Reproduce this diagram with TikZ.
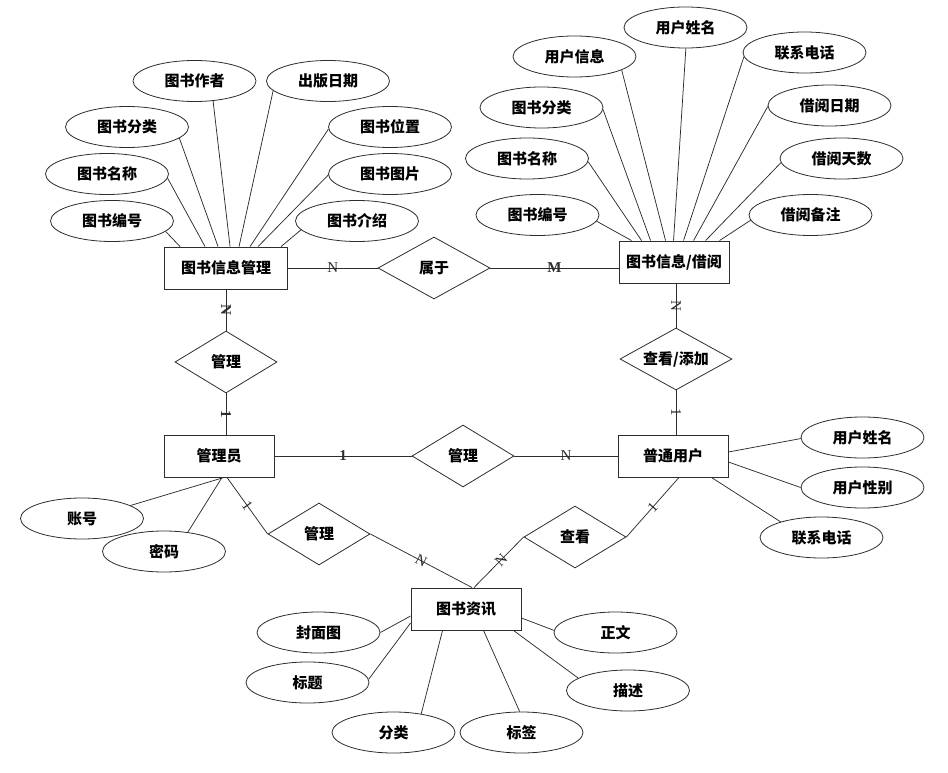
\documentclass[tikz,border=0pt]{standalone}
\usepackage{fontspec}
\setmainfont{Liberation Serif}
\newfontfamily\cjk{Noto Sans CJK SC}
\usetikzlibrary{shapes.geometric,positioning}
\definecolor{erLine}{RGB}{45,45,45}
\newcommand{\erfont}{\cjk\bfseries\fontsize{15}{17}\selectfont}

\tikzset{
  entbox/.style={draw=erLine, line width=0.9pt, rectangle, minimum width=110pt,
    minimum height=42pt, inner sep=0pt, font=\erfont},
  attr/.style={draw=erLine, line width=0.8pt, ellipse, minimum width=123pt,
    minimum height=41pt, inner sep=0pt, font=\erfont},
  rel/.style={draw=erLine, line width=0.8pt, diamond, aspect=1.8, minimum width=102pt,
    minimum height=62pt, inner sep=0pt, font=\erfont},
  link/.style={erLine, line width=0.75pt},
  card/.style={sloped, inner sep=0pt, font=\fontsize{15}{15}\selectfont}
}

\begin{document}
\begin{tikzpicture}[x=1pt, y=-1pt]
    \useasboundingbox (0,0) rectangle (948,773);
    % --- entities ---
    \node[entbox, minimum width=123pt] (tsgl) at (226,268) {图书信息管理};
    \node[entbox] (tsjy) at (674,262) {图书信息/借阅};
    \node[entbox] (gly) at (219,456) {管理员};
    \node[entbox] (ptyh) at (673,456) {普通用户};
    \node[entbox] (tszx) at (466,609) {图书资讯};
    % --- relations ---
    \node[rel, minimum width=112pt] (sy) at (434,268) {属于};
    \node[rel] (gl1) at (226,362) {管理};
    \node[rel, minimum width=112pt] (ckth) at (676,359) {查看/添加};
    \node[rel] (gl2) at (463,456) {管理};
    \node[rel] (gl3) at (319,534) {管理};
    \node[rel] (ck) at (575,537) {查看};
    % --- attributes of 图书信息管理 ---
    \node[attr] (tsbh) at (112,221) {图书编号};
    \node[attr] (tsmc) at (107,174) {图书名称};
    \node[attr] (tsfl) at (127,127) {图书分类};
    \node[attr] (tszz) at (194.5,81) {图书作者};
    \node[attr] (cbrq) at (328,81) {出版日期};
    \node[attr] (tswz) at (390,127) {图书位置};
    \node[attr] (tstp) at (390,174) {图书图片};
    \node[attr] (tsjs) at (357,221) {图书介绍};
    \draw[link] (tsbh.-11) -- ([xshift=16pt]tsgl.north west);
    \draw[link] (tsmc.-4) -- ([xshift=41pt]tsgl.north west);
    \draw[link] (tsfl.-12) -- ([xshift=54pt]tsgl.north west);
    \draw[link] (tszz.-47) -- ([xshift=66pt]tsgl.north west);
    \draw[link] (cbrq.190) -- ([xshift=75pt]tsgl.north west);
    \draw[link] (tswz.182) -- ([xshift=86pt]tsgl.north west);
    \draw[link] (tstp.181) -- ([xshift=94pt]tsgl.north west);
    \draw[link] (tsjs.189) -- ([xshift=117pt]tsgl.north west);
    % --- attributes of 图书信息/借阅 ---
    \node[attr] (jbh) at (537.5,215) {图书编号};
    \node[attr] (jmc) at (527,158.5) {图书名称};
    \node[attr] (jfl) at (541.5,107.5) {图书分类};
    \node[attr] (yhxx) at (574.5,56.5) {用户信息};
    \node[attr] (yhxm) at (685.5,27.5) {用户姓名};
    \node[attr] (lxdh) at (804.5,52.5) {联系电话};
    \node[attr] (jyrq) at (829.5,105.5) {借阅日期};
    \node[attr] (jyts) at (841.5,158.5) {借阅天数};
    \node[attr] (jybz) at (810.5,215) {借阅备注};
    \draw[link] (jbh.-6) -- ([xshift=13pt]tsjy.north west);
    \draw[link] (jmc.-3) -- ([xshift=23pt]tsjy.north west);
    \draw[link] (jfl.-2) -- ([xshift=32pt]tsjy.north west);
    \draw[link] (yhxx.-16) -- ([xshift=47pt]tsjy.north west);
    \draw[link] (yhxm.-89) -- ([xshift=55pt]tsjy.north west);
    \draw[link] (lxdh.184) -- ([xshift=65pt]tsjy.north west);
    \draw[link] (jyrq.181) -- ([xshift=75pt]tsjy.north west);
    \draw[link] (jyts.184) -- ([xshift=87pt]tsjy.north west);
    \draw[link] (jybz.185) -- ([xshift=101pt]tsjy.north west);
    % --- attributes of 普通用户 ---
    \node[attr] (pxm) at (862.5,437.5) {用户姓名};
    \node[attr] (pxb) at (862.5,487.5) {用户性别};
    \node[attr] (pdh) at (821.5,537.5) {联系电话};
    \draw[link] (pxm.181) -- ([yshift=4pt]ptyh.east);
    \draw[link] (pxb.180) -- ([yshift=-6pt]ptyh.east);
    \draw[link] (pdh.159) -- ([xshift=-17pt]ptyh.south east);
    % --- attributes of 管理员 ---
    \node[attr] (zh) at (82,518.5) {账号};
    \node[attr] (mm) at (164,551.5) {密码};
    \draw[link] (zh.15) -- ([xshift=5pt]gly.south);
    \draw[link] (mm.39) -- ([xshift=3pt]gly.south);
    % --- attributes of 图书资讯 ---
    \node[attr] (fmt) at (318.5,632.5) {封面图};
    \node[attr] (bt) at (307.5,682.5) {标题};
    \node[attr] (fl) at (393.5,732.5) {分类};
    \node[attr] (bq) at (521.5,732.5) {标签};
    \node[attr] (zw) at (615.5,632.5) {正文};
    \node[attr] (ms) at (628,690.5) {描述};
    \draw[link] (fmt.0) -- ([yshift=-7pt]tszx.west);
    \draw[link] (bt.3) -- ([yshift=-14pt]tszx.west);
    \draw[link] (fl.34) -- ([xshift=32pt]tszx.south west);
    \draw[link] (bq.95) -- ([xshift=73pt]tszx.south west);
    \draw[link] (zw.178) -- ([yshift=-9pt]tszx.east);
    \draw[link] (ms.166) -- ([xshift=-8pt]tszx.south east);
    % --- relationship links ---
    \draw[link] (tsgl.east) -- node[card] {N} (sy.west);
    \draw[link] (sy.east) -- node[card] {\bfseries M} (sy.east -| tsjy.west);
    \draw[link] (tsgl.south) -- node[card] {\bfseries N} (gl1.north);
    \draw[link] (gl1.south) -- node[card] {\bfseries 1} (gl1.south |- gly.north);
    \draw[link] (gly.east) -- node[card] {\bfseries 1} (gl2.west);
    \draw[link] (gl2.east) -- node[card] {N} (ptyh.west);
    \draw[link] (ckth.north |- tsjy.south) -- node[card] {N} (ckth.north);
    \draw[link] (ckth.south) -- node[card] {1} (ckth.south |- ptyh.north);
    \draw[link] ([xshift=8pt]gly.south) -- node[card] {1} (gl3.west);
    \draw[link] (gl3.east) -- node[card] {N} ([xshift=6pt]tszx.north);
    \draw[link] ([xshift=6pt]ptyh.south) -- node[card] {1} (ck.east);
    \draw[link] (ck.west) -- node[card, pos=0.45] {N} ([xshift=8pt]tszx.north);
\end{tikzpicture}
\end{document}
